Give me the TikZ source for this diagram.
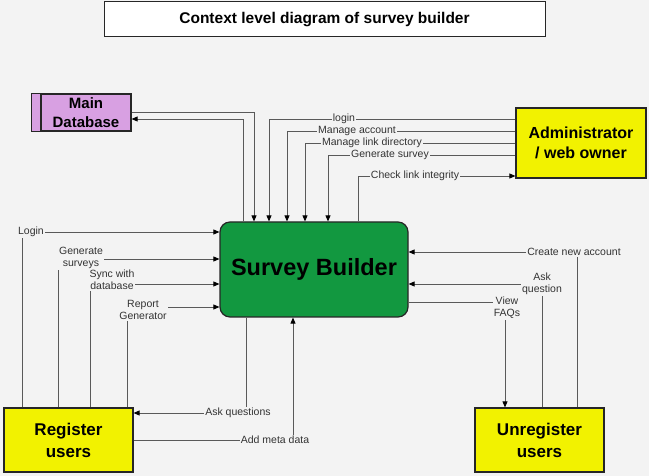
\documentclass[tikz,border=0pt]{standalone}
\usepackage{fontspec}
\setmainfont{Liberation Sans}
\usetikzlibrary{arrows.meta}
\definecolor{backdrop}{RGB}{243,243,243}
\definecolor{entity}{RGB}{242,242,0}
\definecolor{process}{RGB}{18,152,64}
\definecolor{store}{RGB}{216,160,226}
\tikzset{
  box/.style={draw=black!85,line width=1.2pt,align=center,inner sep=0pt},
  flow/.style={draw=black!65,line width=0.8pt},
  tip/.style={-{Triangle[length=6pt,width=5pt,black]}},
  lbl/.style={fill=backdrop,inner sep=1pt,align=center,text=black!80,
              font=\fontsize{10.5}{12}\selectfont},
}

\begin{document}
\begin{tikzpicture}[x=1pt,y=-1pt]
  \fill[backdrop](0,0) rectangle (649,476);
  \useasboundingbox (0,0) rectangle (649,476);
  % title
  \node[box,line width=1pt,fill=white,minimum width=441pt,minimum height=35pt,
        font=\bfseries\fontsize{15.5}{18}\selectfont] (title) at (324.5,19.5)
        {Context level diagram of survey builder};
  % boxes
  \node[box,fill=store,minimum width=90pt,minimum height=37pt,
        font=\bfseries\fontsize{15}{19}\selectfont] (db) at (86,112.5) {Main\\Database};
  \draw[box,fill=store]([xshift=-9pt]db.north west) rectangle (db.south west);
  \node[box,fill=entity,minimum width=130pt,minimum height=70pt,
        font=\bfseries\fontsize{16}{20}\selectfont] (admin) at (581,143) {Administrator\\/ web owner};
  \node[box,fill=process,rounded corners=10pt,minimum width=188pt,minimum height=95pt,
        font=\bfseries\fontsize{23.5}{28}\selectfont] (survey) at (314,269.5) {Survey Builder};
  \node[box,fill=entity,minimum width=129pt,minimum height=64pt,
        font=\bfseries\fontsize{17}{22}\selectfont] (reg) at (68.5,440) {Register\\users};
  \node[box,fill=entity,minimum width=129pt,minimum height=64pt,
        font=\bfseries\fontsize{17}{22}\selectfont] (unreg) at (539.5,440) {Unregister\\users};
  % data store
  \draw[flow,tip](db.east |- 0,112) -| (survey.north -| 254,0);
  \draw[flow,tip](survey.north -| 243,0) |- (db.east |- 0,119);
  % administrator
  \foreach \h/\v/\lx/\txt in {119/269/344/login,131/287/357/Manage account,
                               143/305/372/Manage link directory,155/328/390/Generate survey}{
    \draw[flow,tip](admin.west |- 0,\h) -| (survey.north -| \v,0);
    \node[lbl] (adm\h) at (\lx,\h){\txt};
  }
  \draw[flow,tip](survey.north -| 358,0) |- (admin.west |- 0,176);
  \node[lbl] (check) at (415,176){Check link integrity};
  % registered users
  \foreach \v/\h/\lx/\ly/\txt in {22/232/31/232/Login,58/259/81/258/{Generate\\surveys},
                                   90/284/112/280/{Sync with\\database},127/307/143/310/{Report\\Generator}}{
    \draw[flow,tip](reg.north -| \v,0) |- (survey.west |- 0,\h);
    \node[lbl] (reg\v) at (\lx,\ly){\txt};
  }
  \draw[flow,tip](survey.south -| 246,0) |- (reg.east |- 0,413);
  \node[lbl] (askqs) at (238,413){Ask questions};
  \draw[flow,tip](reg.east |- 0,440) -| (survey.south -| 293,0);
  \node[lbl] (meta) at (275,440){Add meta data};
  % unregistered users
  \draw[flow,tip](unreg.north -| 577,0) |- (survey.east |- 0,252);
  \node[lbl] (newacc) at (574,252){Create new account};
  \draw[flow,tip](unreg.north -| 542,0) |- (survey.east |- 0,284);
  \node[lbl] (askq) at (542,284){Ask\\question};
  \draw[flow,tip](survey.east |- 0,302) -| (unreg.north -| 505,0);
  \node[lbl] (faq) at (507,308){View\\FAQs};
\end{tikzpicture}
\end{document}
